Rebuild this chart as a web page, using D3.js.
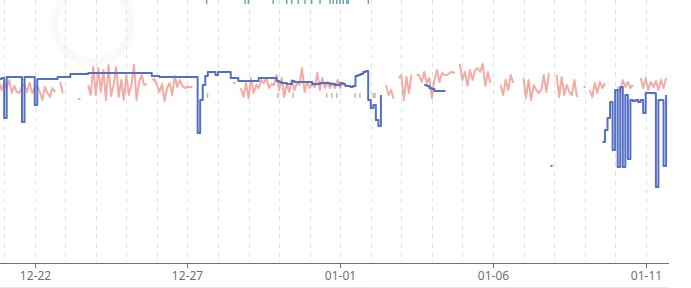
<!DOCTYPE html>
<html>
<head>
<meta charset="utf-8">
<script src="https://cdn.jsdelivr.net/npm/d3@7/dist/d3.min.js"></script>
<style>
  body { margin: 0; background: #fff; }
  svg { display: block; font-family: "Noto Sans", "DejaVu Sans", sans-serif; }
</style>
</head>
<body>
<div id="chart"></div>
<script>
// series sampled every 2 hours, starting 2023-12-20 20:00
const startTime = new Date(2023, 11, 20, 20, 0);
const stepHours = 2;

const tickLabels = ['12-22', '12-27', '01-01', '01-06', '01-11'];

const blueValues = [
  92, 92.5, 72.5, 93, 93, 93, 93, 93, 93, 70.5,
  93, 93, 93, 93, 79, 92, 92, 92, 92, 92,
  92, 92, 92, 93, 93, 93, 93, 93, 94.5, 94.5,
  94.5, 94.5, 94.5, 94.5, 94.5, 95, 95, 95, 95, 95,
  95, 95, 95, 95, 95, 95, 95, 95, 95, 95,
  95, 95, 95, 95, 95, 95, 95, 95, 95, 95,
  93.5, 93.5, 93.5, 93, 93, 93, 93, 93, 93, 93,
  93, 93, 93, 93, 93, 93, 93, 93, 65, 81.5,
  89, 93.5, 95.5, 95.5, 95.5, 94, 95.5, 95.5, 95.5, 95.5,
  95.5, 92.5, 92.5, 92.5, 91, 91, 91, 91, 91, 91,
  91, 91, 92.5, 92.5, 92.5, 92.5, 92.5, 92.5, 92.5, 91,
  90.5, 90, 90, 89.5, 89.5, 91, 90.5, 90.5, 90.5, 90.5,
  90.5, 90.5, 90.5, 89.5, 89.5, 89.5, 90, 90, 90, 90,
  89.5, 89.5, 89, 89, 90, 89.5, 88.5, 88.5, 88, 88.5,
  93.5, 94, 94.5, 95.5, 96, 81.5, 77.5, 79, 71.5, 68.5,
  84, null, null, null, null, null, null, null, null, null,
  null, null, null, null, null, null, null, 89, 88.5, 87.5,
  87, 86, 86, 86, 86, 86.5, null, null, null, null,
  null, null, null, null, null, null, null, null, null, null,
  null, null, null, null, null, null, null, null, null, null,
  null, null, null, null, null, null, null, null, null, null,
  null, null, null, null, null, null, null, 48.5, null, null,
  null, null, null, null, null, null, null, null, null, null,
  null, null, null, null, null, null, null, 60.5, 66.5, 72.5,
  80.5, 56.5, 86.5, 48, 88, 48, 84, 52, 81.5, 81,
  81.5, 80.5, 81.5, 75, 85, 85, 85, 85, 38, 81.5,
  81.5, 48.5, 84
];

const pinkValues = [
  90.5, 86.5, 90.5, 87.5, 91.5, 85, 88.5, 85.5, 85, 88.5,
  89, 85.5, 90, 85, 87.5, 89, 85.5, 81.5, 88, 85,
  83, 87.5, 85.5, null, 90.5, 85, null, null, null, null,
  null, 82, 82, null, null, 89, 84, 98, 84, 97.5,
  85.5, 96.5, 81.5, 99, 83.5, 89, 98, 83, 91.5, 81.5,
  94, 84, 89, 99, 81.5, 90.5, 94, 89, 89.5, null,
  91.5, 92, 89, 85.5, 89.5, 81, 87.5, 90, 84, 93.5,
  88, 91.5, 88.5, 87.5, 88, 88, 88, null, null, null,
  null, null, null, null, null, null, null, null, null, null,
  null, null, 90, 90, null, 87.5, 83, 90, 82.5, 92.5,
  85, 89, 87.5, 91.5, 90, 92.5, 87.5, 89.5, 89, 94,
  86.5, 92.5, 83, 90, 85.5, 91.5, 86.5, 90, 89, 97.5,
  85.5, 90.5, 87.5, 89.5, 88, 95, 86.5, 92.5, 87.5, 90.5,
  87.5, 90, 87.5, 91.5, 87.5, 90.5, null, null, null, null,
  null, null, null, null, null, null, null, null, null, null,
  null, null, 89, 84, 86.5, 82, null, 92.5, 94, 81.5,
  93, 85, 94, null, 94, 94, 90.5, 95.5, 90, 92.5,
  82.5, 91.5, 96.5, 90.5, 95, 94, 94, 95, 95.5, 95,
  null, 99.5, 91.5, 95.5, 88.5, 96.5, 91.5, 96.5, 97.5, 95.5,
  99.5, 88.5, 95.5, 90, null, null, null, 89, 84, 91.5,
  86.5, 94, 90, null, null, null, 92.5, 82.5, 91.5, 81.5,
  89, 86.5, 85, 86.5, 94, 85.5, 95, null, null, 94,
  83, 93, 84, 89, 85.5, 84, 91.5, 83, null, null,
  88, null, 86.5, 83, 90, 85, 90.5, 87.5, 90, null,
  null, null, null, 88, 85.5, 91.5, 88, 90.5, 87.5, 89,
  null, null, 92.5, 87.5, 92.5, 86.5, 90.5, 88, 91, 86.5,
  91.5, 87.5, 92.5
];

// short marks of the third series
const tanTimes = ['2023-12-27 15:45', '2023-12-29 23:10', '2023-12-30 10:55', '2023-12-31 13:20',
  '2023-12-31 17:20', '2023-12-31 21:15', '2024-01-01 11:40', '2024-01-01 15:30',
  '2024-01-02 02:00', '2024-01-02 03:20'];
const tanLow = 82.5;
const tanHigh = 85;

// fourth series, only its bottom ends show at the top edge
const tealTimes = ['2023-12-27 15:05', '2023-12-28 21:15', '2023-12-28 23:50', '2023-12-29 19:25',
  '2023-12-30 06:00', '2023-12-30 09:55', '2023-12-30 15:05', '2023-12-30 20:20',
  '2023-12-31 01:35', '2023-12-31 08:10', '2023-12-31 16:00', '2023-12-31 18:35',
  '2023-12-31 21:15', '2023-12-31 23:50', '2024-01-01 02:25', '2024-01-01 05:05',
  '2024-01-01 06:20', '2024-01-01 22:05'];
const tealLow = 129.5;
const tealHigh = 140;

const width = 691, height = 288;
const plotRight = 669, plotBottom = 263;

const svg = d3.select('#chart').append('svg')
  .attr('width', width)
  .attr('height', height);

const parseTime = d3.timeParse('%Y-%m-%d %H:%M');
const tickDates = tickLabels.map(s => {
  const [m, d] = s.split('-').map(Number);
  return new Date(m === 12 ? 2023 : 2024, m - 1, d);
});

const x = d3.scaleTime()
  .domain([tickDates[0], tickDates[tickDates.length - 1]])
  .range([34.7, 645.7]);
const y = d3.scaleLinear().domain([0, 130]).range([plotBottom, 3]);

const timeAt = i => d3.timeHour.offset(startTime, i * stepHours);

svg.append('defs').append('clipPath').attr('id', 'plotClip')
  .append('rect').attr('x', 0).attr('y', 0).attr('width', plotRight).attr('height', plotBottom);

// faint watermark ring
svg.append('circle')
  .attr('cx', 93).attr('cy', 24).attr('r', 38)
  .attr('fill', 'none').attr('stroke', '#f8f9fc').attr('stroke-width', 8);

// daily dashed grid
const days = d3.timeDay.range(x.invert(0), x.invert(plotRight));
svg.append('g').selectAll('line')
  .data(days)
  .join('line')
  .attr('x1', d => Math.round(x(d)) + 0.5)
  .attr('x2', d => Math.round(x(d)) + 0.5)
  .attr('y1', 0)
  .attr('y2', plotBottom)
  .attr('stroke', '#e0e3ea')
  .attr('stroke-dasharray', '5,4');

const plotG = svg.append('g').attr('clip-path', 'url(#plotClip)');

// teal marks at top
plotG.append('g').selectAll('line')
  .data(tealTimes.map(parseTime))
  .join('line')
  .attr('x1', d => x(d)).attr('x2', d => x(d))
  .attr('y1', y(tealHigh)).attr('y2', y(tealLow))
  .attr('stroke', '#6aa6b6').attr('stroke-width', 1.5);

function drawSeries(values, color, widthPx, curve) {
  const pts = values.map((v, i) => ({t: timeAt(i), v: v}));
  const line = d3.line()
    .defined(d => d.v !== null)
    .x(d => x(d.t))
    .y(d => y(d.v))
    .curve(curve);
  plotG.append('path')
    .datum(pts)
    .attr('d', line)
    .attr('fill', 'none')
    .attr('stroke', color)
    .attr('stroke-width', widthPx)
    .attr('stroke-linejoin', 'round');
  // single points with gaps on both sides
  const lone = pts.filter((d, i) => d.v !== null &&
    (i === 0 || values[i - 1] === null) && (i === values.length - 1 || values[i + 1] === null));
  plotG.append('g').selectAll('rect')
    .data(lone)
    .join('rect')
    .attr('x', d => x(d.t) - 1)
    .attr('y', d => y(d.v) - 1)
    .attr('width', 2)
    .attr('height', 2)
    .attr('fill', color);
}

drawSeries(pinkValues, '#f2aca3', 2, d3.curveLinear);

// tan marks
plotG.append('g').selectAll('line')
  .data(tanTimes.map(parseTime))
  .join('line')
  .attr('x1', d => x(d)).attr('x2', d => x(d))
  .attr('y1', y(tanHigh)).attr('y2', y(tanLow))
  .attr('stroke', '#cbb898').attr('stroke-width', 1.5);

drawSeries(blueValues, '#5470c6', 2, d3.curveStepAfter);

// x axis
const axisG = svg.append('g').attr('transform', `translate(0,${plotBottom})`);
axisG.append('line')
  .attr('x1', 0).attr('x2', plotRight)
  .attr('y1', 0.5).attr('y2', 0.5)
  .attr('stroke', '#6e7079');
axisG.selectAll('.tick')
  .data(tickDates)
  .join('g')
  .attr('class', 'tick')
  .attr('transform', d => `translate(${Math.round(x(d)) + 0.5},0)`)
  .each(function(d, i) {
    const g = d3.select(this);
    g.append('line').attr('y1', 0).attr('y2', 5).attr('stroke', '#6e7079');
    g.append('text')
      .attr('y', 17)
      .attr('text-anchor', 'middle')
      .attr('fill', '#6e7079')
      .attr('font-size', 12)
      .text(tickLabels[i]);
  });

// edge of the zoom bar below
svg.append('line')
  .attr('x1', 0).attr('x2', plotRight)
  .attr('y1', 287.5).attr('y2', 287.5)
  .attr('stroke', '#e2e7f1');
</script>
</body>
</html>
